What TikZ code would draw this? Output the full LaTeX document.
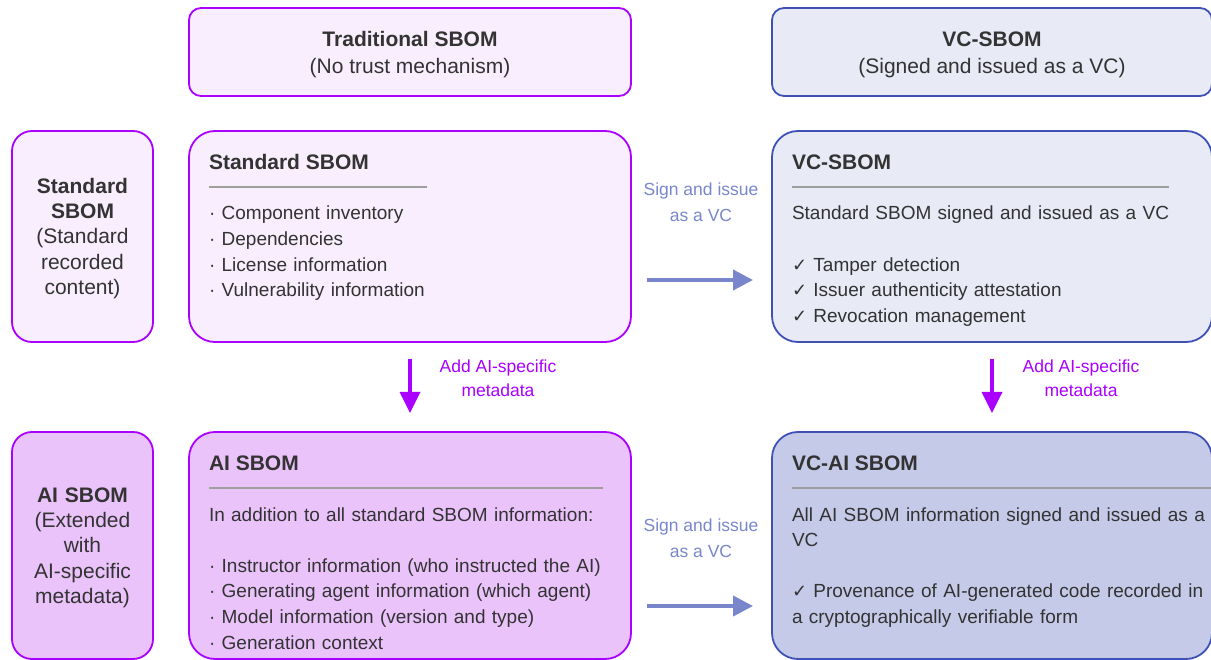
\documentclass[tikz,border=0pt]{standalone}
\usepackage{fontspec}
\setmainfont{Liberation Sans}
\newfontfamily\checkfont{DejaVu Sans}
\usepackage{tikz}
\usetikzlibrary{arrows.meta,positioning,calc}

\definecolor{purpleline}{HTML}{AA00FF}
\definecolor{purplelight}{HTML}{F8EEFD}
\definecolor{purplemid}{HTML}{EAC3FB}
\definecolor{indigoline}{HTML}{3F51B5}
\definecolor{indigolight}{HTML}{E8EAF6}
\definecolor{indigomid}{HTML}{C5CAE9}
\definecolor{indigoarrow}{HTML}{7986CB}
\definecolor{textdark}{HTML}{333333}
\definecolor{sepgray}{HTML}{9E9E9E}

\newcommand{\ckmark}{{\checkfont\fontsize{18}{18}\selectfont ✓}}
\newcommand{\itemdot}{·}
\newcommand{\hdrstrut}{\rule{0pt}{21pt}}

\begin{document}
\begin{tikzpicture}[x=1pt, y=-1pt,
    every node/.style={text=textdark, inner sep=0pt, outer sep=0pt},
    hdr/.style={draw, line width=1.8pt, rounded corners=12pt, align=center,
        minimum height=88pt, font=\fontsize{21}{27}\selectfont},
    mainbox/.style={draw, line width=1.8pt, rounded corners=26pt},
    sidebox/.style={draw, line width=1.8pt, rounded corners=20pt, align=center,
        text width=135pt, minimum width=141pt, font=\fontsize{21}{25.3}\selectfont},
    purplebox/.style={draw=purpleline, fill=purplelight},
    purpledeep/.style={draw=purpleline, fill=purplemid},
    indigobox/.style={draw=indigoline, fill=indigolight},
    indigodeep/.style={draw=indigoline, fill=indigomid},
    boxtitle/.style={anchor=base west, font=\bfseries\fontsize{21}{25}\selectfont},
    boxbody/.style={anchor=base west, align=left, text width=425pt,
        font=\fontsize{19}{25.6}\selectfont},
    sepline/.style={draw=sepgray, line width=1.5pt},
    signlabel/.style={text=indigoarrow, align=center, font=\fontsize{17.5}{26}\selectfont},
    addlabel/.style={text=purpleline, align=center, font=\fontsize{17.5}{24}\selectfont},
    signarrow/.style={draw=indigoarrow, line width=4pt,
        -{Triangle[length=20pt,width=20pt]}, shorten <=16pt, shorten >=19pt},
    addarrow/.style={draw=purpleline, line width=3.5pt,
        -{Triangle[length=21pt,width=20pt]}, shorten <=17pt, shorten >=19pt}]

    \useasboundingbox (0,0) rectangle (1211,660);
    \clip (0,0) rectangle (1211,660);

    % column headers
    \node[hdr, purplebox, minimum width=442pt] (hdrTrad) at (410,52)
        {\hdrstrut\textbf{Traditional SBOM}\\(No trust mechanism)};
    \node[hdr, indigobox, minimum width=440pt] (hdrVC) at (992,52)
        {\hdrstrut\textbf{VC-SBOM}\\(Signed and issued as a VC)};

    % row labels
    \node[sidebox, purplebox, minimum height=211pt] (lblStd) at (82.5,236.5)
        {\rule{0pt}{19pt}\textbf{Standard}\\\textbf{SBOM}\\(Standard\\recorded\\content)};
    \node[sidebox, purpledeep, minimum height=227pt] (lblAI) at (82.5,545.5)
        {\rule{0pt}{19pt}\textbf{AI SBOM}\\(Extended\\with\\AI-specific\\metadata)};

    % main boxes
    \node[mainbox, purplebox, minimum width=442pt, minimum height=211pt] (stdBox) at (410,236.5) {};
    \node[mainbox, indigobox, minimum width=440pt, minimum height=211pt] (vcBox) at (992,236.5) {};
    \node[mainbox, purpledeep, minimum width=442pt, minimum height=227pt] (aiBox) at (410,545.5) {};
    \node[mainbox, indigodeep, minimum width=440pt, minimum height=227pt] (vcaiBox) at (992,545.5) {};

    % standard SBOM
    \node[boxtitle] (stdTitle) at (209,170) {Standard SBOM};
    \draw[sepline] (209,187) -- (427,187);
    \node[boxbody] (stdBody) at (209,220)
        {\itemdot\ Component inventory\\\itemdot\ Dependencies\\
         \itemdot\ License information\\\itemdot\ Vulnerability information};

    % VC-SBOM
    \node[boxtitle] (vcTitle) at (792,170) {VC-SBOM};
    \draw[sepline] (792,187) -- (1169,187);
    \node[boxbody] (vcBody) at (792,220)
        {Standard SBOM signed and issued as a VC\\[25.6pt]
         \ckmark\ Tamper detection\\\ckmark\ Issuer authenticity attestation\\
         \ckmark\ Revocation management};

    % AI SBOM
    \node[boxtitle] (aiTitle) at (209,471) {AI SBOM};
    \draw[sepline] (209,488) -- (603,488);
    \node[boxbody] (aiBody) at (209,521)
        {In addition to all standard SBOM information:\\[25.6pt]
         \itemdot\ Instructor information (who instructed the AI)\\
         \itemdot\ Generating agent information (which agent)\\
         \itemdot\ Model information (version and type)\\
         \itemdot\ Generation context};

    % VC-AI SBOM
    \node[boxtitle] (vcaiTitle) at (792,471) {VC-AI SBOM};
    \draw[sepline] (792,488) -- (1212,488);
    \node[boxbody] (vcaiBody) at (792,521)
        {All AI SBOM information signed and issued as a\\VC\\[25.6pt]
         \ckmark\ Provenance of AI-generated code recorded in\\
         a cryptographically verifiable form};

    % transitions
    \node[signlabel] (signTop) at (701,202) {Sign and issue\\as a VC};
    \node[signlabel] (signBot) at (701,538) {Sign and issue\\as a VC};
    \node[addlabel] (addLeft) at (498,378) {Add AI-specific\\metadata};
    \node[addlabel] (addRight) at (1081,378) {Add AI-specific\\metadata};

    \draw[signarrow] ([yshift=-43.5pt]stdBox.east) -- ([yshift=-43.5pt]vcBox.west);
    \draw[signarrow] ([yshift=-60.5pt]aiBox.east) -- ([yshift=-60.5pt]vcaiBox.west);
    \draw[addarrow] (stdBox.south) -- (aiBox.north);
    \draw[addarrow] (vcBox.south) -- (vcaiBox.north);
\end{tikzpicture}
\end{document}
